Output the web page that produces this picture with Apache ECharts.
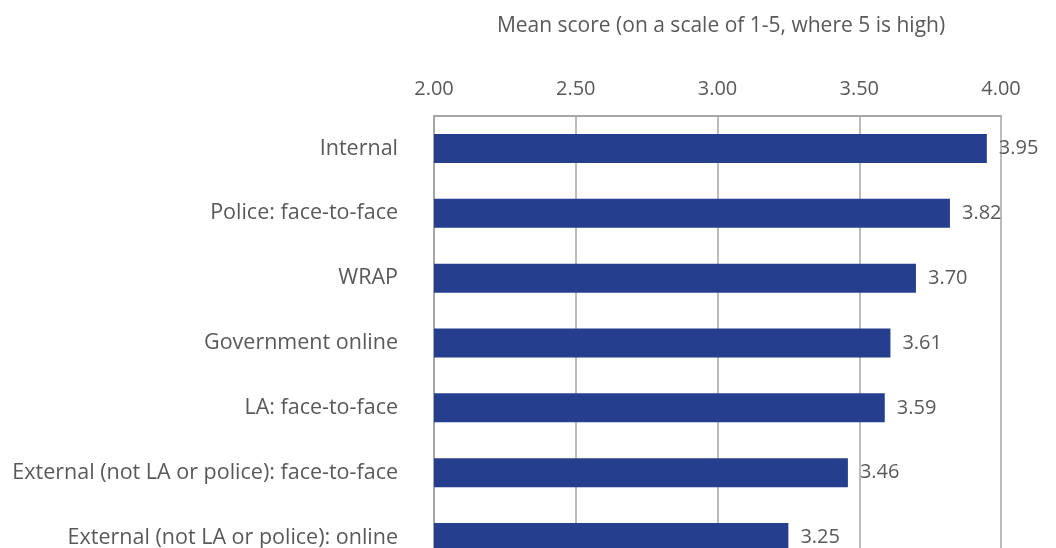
<!DOCTYPE html>
<html>
<head>
<meta charset="utf-8">
<script src="https://cdn.jsdelivr.net/npm/echarts@6/dist/echarts.min.js"></script>
<style>
html,body{margin:0;padding:0;background:#fff;}
#chart{width:1056px;height:548px;}
</style>
</head>
<body>
<div id="chart"></div>
<script>
const categories = [
  "Internal",
  "Police: face-to-face",
  "WRAP",
  "Government online",
  "LA: face-to-face",
  "External (not LA or police): face-to-face",
  "External (not LA or police): online"
];
const values = [3.95, 3.82, 3.70, 3.61, 3.59, 3.46, 3.25];
const axisTitle = "Mean score (on a scale of 1-5, where 5 is high)";
const xMin = 2, xMax = 4, xStep = 0.5;

const FONT = "Open Sans";
const TXT = "#595959";
const GRID = "#a6a6a6";
const FS = 20;

const chart = echarts.init(document.getElementById('chart'), null, {renderer: 'canvas'});
chart.setOption({
  animation: false,
  backgroundColor: '#fff',
  title: {
    text: axisTitle,
    left: 716, top: 11,
    textAlign: 'center',
    textStyle: {fontFamily: FONT, fontSize: 21, fontWeight: 'normal', color: TXT}
  },
  grid: {left: 434, right: 55, top: 116, height: 454, containLabel: false, outerBoundsMode: 'none'},
  xAxis: {
    type: 'value',
    position: 'top',
    min: xMin, max: xMax, interval: xStep,
    axisLine: {show: true, lineStyle: {color: GRID, width: 2}},
    axisTick: {show: false},
    splitLine: {show: true, lineStyle: {color: GRID, width: 1.5}},
    axisLabel: {
      margin: 17,
      fontFamily: FONT, fontSize: FS, color: TXT,
      formatter: v => v.toFixed(2)
    }
  },
  yAxis: {
    type: 'category',
    inverse: true,
    data: categories,
    axisLine: {show: true, lineStyle: {color: GRID, width: 2}},
    axisTick: {show: false},
    axisLabel: {margin: 36, fontFamily: FONT, fontSize: 21.5, color: TXT}
  },
  series: [{
    type: 'bar',
    data: values,
    barWidth: 29,
    itemStyle: {color: '#253F8E'},
    label: {
      show: true, position: 'right', distance: 12,
      fontFamily: FONT, fontSize: FS, color: TXT,
      formatter: p => p.value.toFixed(2)
    }
  }]
});
</script>
</body>
</html>
